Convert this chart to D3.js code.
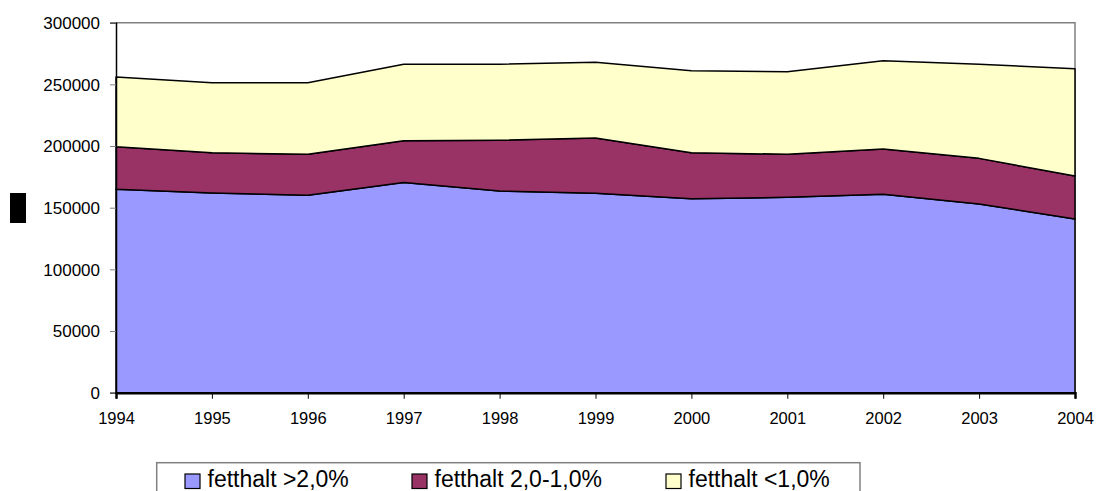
<!DOCTYPE html>
<html>
<head>
<meta charset="utf-8">
<script src="https://cdn.jsdelivr.net/npm/d3@7"></script>
<style>
  body { margin: 0; background: #fff; }
  text { font-family: "Liberation Sans", Arial, sans-serif; fill: #000; }
</style>
</head>
<body>
<div id="chart"></div>
<script>
// years on the x axis
const years = [1994, 1995, 1996, 1997, 1998, 1999, 2000, 2001, 2002, 2003, 2004];

// series values
const fettOver2 = [165000, 162000, 160000, 170500, 163500, 161700, 157300, 158400, 160900, 153000, 140800];
const fett2to1 = [34500, 32600, 33300, 33800, 41200, 44800, 37300, 34900, 36700, 37000, 34900];
const fettUnder1 = [56500, 56800, 58100, 62000, 61600, 61400, 66500, 67000, 71600, 76300, 87000];

const seriesNames = ["fetthalt >2,0%", "fetthalt 2,0-1,0%", "fetthalt <1,0%"];
const seriesColors = ["#9999FF", "#993366", "#FFFFCC"];
const yTicks = [0, 50000, 100000, 150000, 200000, 250000, 300000];

const W = 1097, H = 491;
const margin = { top: 22.7, right: 22, bottom: 98.3, left: 116 },
    width = W - margin.left - margin.right,
    height = H - margin.top - margin.bottom;

const rows = years.map((y, i) => ({
    year: y,
    s0: fettOver2[i],
    s1: fett2to1[i],
    s2: fettUnder1[i]
}));

const stack = d3.stack().keys(["s0", "s1", "s2"]);
const layers = stack(rows);

const svg = d3.select("#chart")
    .append("svg")
    .attr("width", W)
    .attr("height", H);

const g = svg.append("g")
    .attr("transform", `translate(${margin.left}, ${margin.top})`);

const xScale = d3.scaleLinear().domain(d3.extent(years)).range([0, width]);
const yScale = d3.scaleLinear().domain([0, 300000]).range([height, 0]);

// plot frame (top + right in gray)
g.append("path")
    .attr("d", `M0,0H${width}V${height}`)
    .style("fill", "none")
    .style("stroke", "#808080")
    .style("stroke-width", 1.5);

const area = d3.area()
    .x(d => xScale(d.data.year))
    .y0(d => yScale(d[0]))
    .y1(d => yScale(d[1]));

g.selectAll(".layer")
    .data(layers)
    .enter()
    .append("path")
    .attr("class", "layer")
    .attr("d", area)
    .style("fill", (d, i) => seriesColors[i])
    .style("stroke", "#000")
    .style("stroke-width", 1.5)
    .style("stroke-linejoin", "round");

// y axis
const yaxis = d3.axisLeft(yScale)
    .tickValues(yTicks)
    .tickSize(6)
    .tickPadding(10)
    .tickFormat(d3.format("d"));

const yg = g.append("g").attr("class", "y-axis").call(yaxis);
yg.select(".domain").style("stroke", "#000").style("stroke-width", 1.5);
yg.selectAll(".tick line").style("stroke", "#808080");
yg.selectAll("text")
    .style("font-size", "17px")
    .attr("dy", "0.34em");

// x axis
const xaxis = d3.axisBottom(xScale)
    .tickValues(years)
    .tickSize(6)
    .tickPadding(14)
    .tickFormat(d3.format("d"));

const xg = g.append("g")
    .attr("class", "x-axis")
    .attr("transform", `translate(0, ${height})`)
    .call(xaxis);
xg.select(".domain").style("stroke", "#000").style("stroke-width", 2.5);
xg.selectAll(".tick line").style("stroke", "#000");
xg.selectAll("text")
    .style("font-size", "16.5px")
    .attr("dy", "0.71em");

// axis title block (renders as a solid block in the source)
svg.append("rect")
    .attr("x", 10)
    .attr("y", 193)
    .attr("width", 16)
    .attr("height", 30)
    .style("fill", "#000");

// legend
const legend = svg.append("g");
legend.append("rect")
    .attr("x", 156.7)
    .attr("y", 462.7)
    .attr("width", 703.3)
    .attr("height", 40)
    .style("fill", "#fff")
    .style("stroke", "#808080")
    .style("stroke-width", 1.5);

const legendX = [185, 412, 666];
seriesNames.forEach((name, i) => {
    legend.append("rect")
        .attr("x", legendX[i])
        .attr("y", 474)
        .attr("width", 15)
        .attr("height", 14.5)
        .style("fill", seriesColors[i])
        .style("stroke", "#000")
        .style("stroke-width", 1.2);
    legend.append("text")
        .attr("x", legendX[i] + 22.5)
        .attr("y", 487)
        .style("font-size", "23px")
        .text(name);
});
</script>
</body>
</html>
